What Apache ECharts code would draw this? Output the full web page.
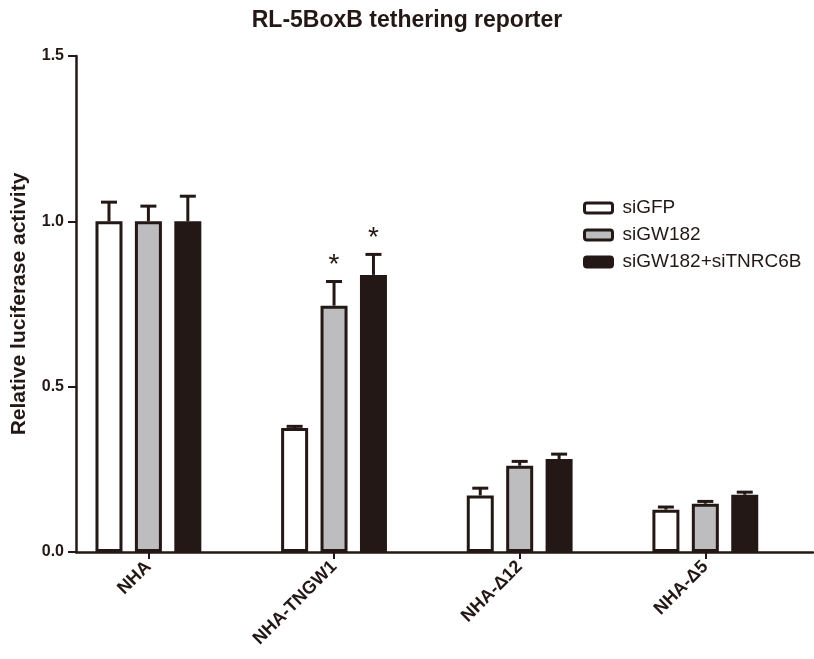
<!DOCTYPE html>
<html>
<head>
<meta charset="utf-8">
<script src="https://cdn.jsdelivr.net/npm/echarts@6/dist/echarts.min.js"></script>
<style>html,body{margin:0;padding:0;background:#fff}#c{width:814px;height:659px}</style>
</head>
<body>
<div id="c"></div>
<script>
const categories = ['NHA', 'NHA-TNGW1', 'NHA-Δ12', 'NHA-Δ5'];
const seriesNames = ['siGFP', 'siGW182', 'siGW182+siTNRC6B'];
const siGFP = [1.0, 0.375, 0.171, 0.128];
const siGW182 = [1.0, 0.745, 0.261, 0.146];
const siGW182_siTNRC6B = [1.0, 0.838, 0.281, 0.173];
const errGFP = [0.058, 0.005, 0.022, 0.008];
const errGW182 = [0.046, 0.073, 0.013, 0.007];
const errGW182_siTNRC6B = [0.076, 0.062, 0.015, 0.008];
const sigGFP = ['', '', '', ''];
const sigGW182 = ['', '*', '', ''];
const sigGW182_siTNRC6B = ['', '*', '', ''];
const yTicks = [0, 0.5, 1.0, 1.5];
const titleText = 'RL-5BoxB tethering reporter';
const yName = 'Relative luciferase activity';

const ink = '#231815';
const fills = ['#ffffff', '#bdbdbf', '#231815'];
const means = [siGFP, siGW182, siGW182_siTNRC6B];
const errs = [errGFP, errGW182, errGW182_siTNRC6B];
const sigs = [sigGFP, sigGW182, sigGW182_siTNRC6B];
const BAR_W = 27, BAR_GAP = 0.46;
const font = '"Liberation Sans", Arial, sans-serif';
const catIdx = categories.map((c, i) => i);

const series = [];
means.forEach((vals, s) => {
  series.push({
    name: seriesNames[s], type: 'bar', barWidth: BAR_W, barGap: (BAR_GAP * 100) + '%',
    itemStyle: { color: fills[s], borderColor: ink, borderWidth: 3 },
    data: vals.map((v, i) => [i, v]), z: 2
  });
});
means.forEach((vals, s) => {
  const offset = (s - 1) * BAR_W * (1 + BAR_GAP);
  series.push({
    type: 'custom', z: 3, silent: true,
    data: vals.map((v, i) => [i, v, errs[s][i]]),
    renderItem: function (params, api) {
      const x = api.value(0), m = api.value(1), e = api.value(2);
      const p0 = api.coord([x, m]);
      const p1 = api.coord([x, m + e]);
      const cx = p0[0] + offset;
      const st = { stroke: ink, lineWidth: 3 };
      const children = [
        { type: 'line', shape: { x1: cx, y1: p0[1], x2: cx, y2: p1[1] }, style: st },
        { type: 'line', shape: { x1: cx - 8, y1: p1[1], x2: cx + 8, y2: p1[1] }, style: st }
      ];
      const sg = sigs[s][params.dataIndex];
      if (sg) {
        children.push({ type: 'text', style: { text: sg, x: cx, y: p1[1] - 2, align: 'center', verticalAlign: 'bottom', fill: ink, font: '28px ' + font } });
      }
      return { type: 'group', children: children };
    }
  });
});

const chart = echarts.init(document.getElementById('c'), null, { renderer: 'canvas' });
chart.setOption({
  animation: false,
  backgroundColor: '#fff',
  title: { text: titleText, left: 'center', top: 4, textStyle: { fontFamily: font, fontWeight: 'bold', fontSize: 23, color: ink } },
  legend: {
    data: seriesNames, orient: 'vertical', left: 583, top: 198, padding: 0,
    itemWidth: 28, itemHeight: 10, itemGap: 7,
    itemStyle: { borderColor: ink, borderWidth: 3 },
    textStyle: { fontFamily: font, fontSize: 19, color: ink, lineHeight: 20, padding: [0, 0, 0, 5] }
  },
  grid: { left: 76, right: 1, top: 56, bottom: 107, containLabel: false },
  xAxis: {
    type: 'value', min: -0.39, max: 3.58,
    axisLine: { show: true, onZero: false, lineStyle: { color: ink, width: 2.5 } },
    axisTick: { show: true, length: 7, lineStyle: { color: ink, width: 2 }, customValues: catIdx },
    axisLabel: {
      customValues: catIdx, rotate: 45, margin: 12,
      formatter: v => categories[Math.round(v)],
      fontFamily: font, fontWeight: 'bold', fontSize: 18, color: ink
    },
    splitLine: { show: false }
  },
  yAxis: {
    type: 'value', min: 0, max: 1.5, interval: 0.5,
    name: yName, nameLocation: 'middle', nameRotate: 90, nameGap: 46,
    nameTextStyle: { fontFamily: font, fontWeight: 'bold', fontSize: 21, color: ink },
    axisLine: { show: true, onZero: false, lineStyle: { color: ink, width: 2.5 } },
    axisTick: { show: true, length: 8, lineStyle: { color: ink, width: 2 } },
    axisLabel: { margin: 12, formatter: v => v.toFixed(1), fontFamily: font, fontWeight: 'bold', fontSize: 16, color: ink },
    splitLine: { show: false }
  },
  series: series
});
</script>
</body>
</html>
